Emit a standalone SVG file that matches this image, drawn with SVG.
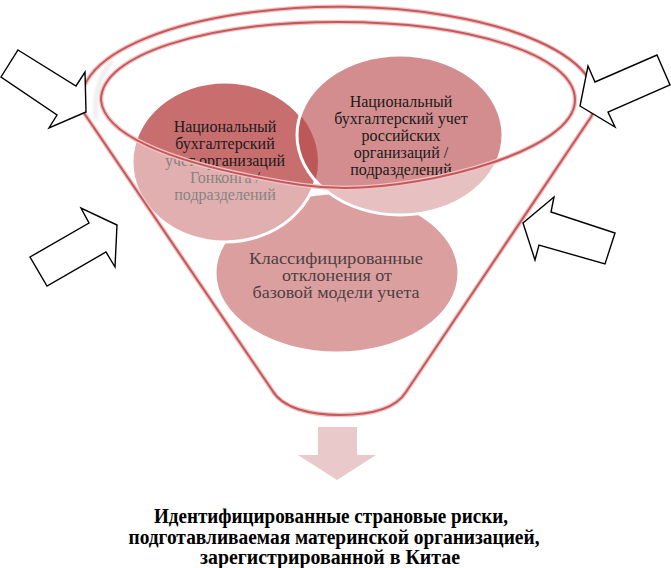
<svg xmlns="http://www.w3.org/2000/svg" width="671" height="568" viewBox="0 0 671 568">
<style>
.ct{font-family:"Liberation Serif","Times New Roman",serif;font-size:16px;fill:#1a1a1a;text-anchor:middle}
.bt{font-family:"Liberation Serif","Times New Roman",serif;font-size:16px;fill:#4e3f40;text-anchor:middle}
.ft{font-family:"Liberation Serif","Times New Roman",serif;font-size:20px;fill:#000;text-anchor:middle;font-weight:bold}
.arrow{fill:#fff;stroke:#000;stroke-width:1.4;stroke-linejoin:miter}
.rimHalo{fill:none;stroke:#efc4c5;stroke-width:4.5}
.rim{fill:none;stroke:#c7585a;stroke-width:2}
.circ{stroke:#fff;stroke-width:3}
</style>
<defs>
<clipPath id="clipRight"><ellipse cx="400" cy="135" rx="103" ry="80"/></clipPath>
<filter id="blur" x="-50%" y="-50%" width="200%" height="200%"><feGaussianBlur stdDeviation="1.6"/></filter>
<path id="opening" d="M 101,100 C 104,135 170,160 250,176 C 290,184 315,188 345,188 C 430,188 575,150 575,100 C 575,55 470,22 338,22 C 205,22 101,55 101,100 Z"/>
</defs>

<!-- funnel shadow band -->
<path d="M 112,60 Q 93,84 96,120" fill="none" stroke="#d9d9d9" stroke-width="5" filter="url(#blur)" opacity="0.8"/>

<g id="circle-bottom">
<ellipse class="circ" cx="337" cy="273" rx="122" ry="80" fill="#bf5052"/>
</g>

<g id="circle-left">
<ellipse class="circ" cx="225" cy="162" rx="93" ry="80" fill="#c86e6f"/>
</g>
<g id="circle-right">
<ellipse cx="400" cy="135" rx="103" ry="80" fill="#d38d8e"/>
<ellipse cx="225" cy="162" rx="93" ry="80" fill="#bd5859" clip-path="url(#clipRight)"/>
<ellipse cx="400" cy="135" rx="103" ry="80" fill="none" stroke="#fff" stroke-width="3"/>
</g>

<g id="text-left">
<text class="ct" x="225" y="132">Национальный</text>
<text class="ct" x="225" y="149">бухгалтерский</text>
<text class="ct" x="225" y="166">учет организаций</text>
<text class="ct" x="225" y="183">Гонконга /</text>
<text class="ct" x="225" y="200">подразделений</text>
</g>
<g id="text-right">
<text class="ct" x="401" y="107">Национальный</text>
<text class="ct" x="401" y="124">бухгалтерский учет</text>
<text class="ct" x="401" y="141">российских</text>
<text class="ct" x="401" y="158">организаций /</text>
<text class="ct" x="401" y="175">подразделений</text>
</g>

<!-- translucent funnel body outside the opening -->
<path fill="#fff" fill-opacity="0.45" fill-rule="evenodd" d="M 84,113 A 257 93 0 1 1 591,117 L 406,392 C 396,408 372,415 340,415 C 310,415 282,408 272,390 Z M 101,100 C 104,135 170,160 250,176 C 290,184 315,188 345,188 C 430,188 575,150 575,100 C 575,55 470,22 338,22 C 205,22 101,55 101,100 Z"/>

<g id="text-bottom">
<text class="bt" x="336" y="264" textLength="174" lengthAdjust="spacingAndGlyphs">Классифицированные</text>
<text class="bt" x="337" y="281" textLength="110" lengthAdjust="spacingAndGlyphs">отклонения от</text>
<text class="bt" x="336" y="298" textLength="167" lengthAdjust="spacingAndGlyphs">базовой модели учета</text>
</g>

<g id="funnel">
<path class="rimHalo" d="M 84,113 A 257 93 0 1 1 591,117 L 406,392 C 396,408 372,415 340,415 C 310,415 282,408 272,390 Z"/>
<use href="#opening" class="rimHalo"/>
<path class="rim" d="M 84,113 A 257 93 0 1 1 591,117 L 406,392 C 396,408 372,415 340,415 C 310,415 282,408 272,390 Z"/>
<use href="#opening" class="rim" stroke-width="1.6"/>
</g>

<g id="connectors">
<polygon class="arrow" points="18,50 76,86 85,72 86,112 49,128 57,115 1,77"/>
<polygon class="arrow" points="30,257 89,223 81,208 117,225 115,267 106,252 47,286"/>
<polygon class="arrow" points="657,55 670,85 608,112 615,127 580,106 588,66 595,82"/>
<polygon class="arrow" points="615,233 605,264 539,245 535,260 523,223 554,197 551,212"/>
<polygon points="318,427 357,427 357,455 376,455 337,480 298,455 318,455" fill="#e9c9ca"/>
</g>

<g id="result">
<text class="ft" x="331" y="523" textLength="354" lengthAdjust="spacingAndGlyphs">Идентифицированные страновые риски,</text>
<text class="ft" x="334" y="544" textLength="411" lengthAdjust="spacingAndGlyphs">подготавливаемая материнской организацией,</text>
<text class="ft" x="330" y="564" textLength="260" lengthAdjust="spacingAndGlyphs">зарегистрированной в Китае</text>
</g>
</svg>
